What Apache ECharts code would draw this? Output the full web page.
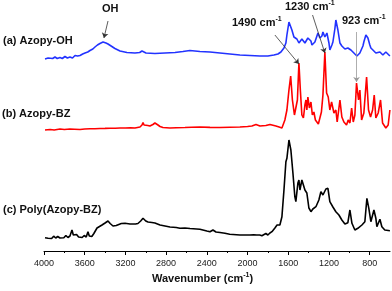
<!DOCTYPE html>
<html><head><meta charset="utf-8">
<script src="https://cdn.jsdelivr.net/npm/echarts@6/dist/echarts.min.js"></script>
<style>html,body{margin:0;padding:0;background:#fff}#c{width:392px;height:291px}</style>
</head><body><div id="c"></div>
<script>
const majorTicks = [4000,3600,3200,2800,2400,2000,1600,1200,800];
const minorTicks = [3800,3400,3000,2600,2200,1800,1400,1000];
const seriesNames = ['(a) Azopy-OH','(b) Azopy-BZ','(c) Poly(Azopy-BZ)'];

// [wavenumber, intensity (a.u., offset)]
const azopyOH = [[3990,192],[3960,193],[3941,193.5],[3915,192.5],[3892,194],[3870,192.5],[3843,193.5],[3820,192.5],[3794,194.5],[3770,193],[3745,194],[3720,193],[3695,195.5],[3670,195],[3646,195.5],[3620,197],[3597,198],[3570,199],[3548,200.5],[3520,202],[3499,204],[3475,206],[3450,207.5],[3420,209],[3391,208],[3371,207],[3352,205.5],[3303,202.5],[3253,200],[3185,198.5],[3106,198],[3060,198.5],[3037,200],[3020,198.5],[2998,198],[2910,197.5],[2811,198],[2713,198.5],[2635,199.5],[2566,200.5],[2468,199.5],[2369,199],[2271,198],[2173,197],[2075,196],[1976,195.5],[1878,195],[1800,195],[1741,196],[1701,197],[1672,199],[1642,203],[1623,208],[1613,216],[1593,229],[1584,231],[1564,221],[1544,214],[1525,213],[1515,212],[1495,208],[1485,206],[1466,212],[1456,213],[1436,208],[1426,207],[1407,213],[1397,215],[1377,210],[1367,206],[1348,208],[1338,209],[1318,215],[1308,218],[1289,213],[1279,211],[1269,215],[1259,219],[1240,214],[1220,218],[1200,208],[1191,201],[1171,206],[1161,209],[1142,222],[1132,231],[1112,221],[1092,208],[1073,205],[1063,204],[1043,202],[1033,201],[1014,203],[1004,204],[984,201],[974,199],[945,197],[925,195],[916,196],[896,198],[886,200],[866,205],[857,209],[837,216],[817,213],[798,206],[788,203],[768,201],[758,200],[739,198],[729,198],[699,199],[680,197],[670,196],[651,198],[641,199],[621,197],[601,195]];

const azopyBZ = [[3990,121],[3940,121.5],[3900,121],[3843,122],[3800,121.5],[3746,122],[3700,121.8],[3646,121.5],[3600,122],[3548,122.3],[3500,122.2],[3450,122.5],[3400,122.6],[3350,122.8],[3300,122.8],[3253,123],[3200,123],[3150,123.2],[3106,123],[3057,124],[3037,126],[3027,128.5],[3017,126],[3008,125],[2980,125.5],[2959,125],[2930,126.5],[2910,128],[2895,127],[2880,126],[2860,124.5],[2831,123.5],[2762,123],[2700,123.2],[2615,123.5],[2550,123.8],[2468,124],[2369,123.6],[2271,123.5],[2173,123.8],[2075,124],[2000,124.5],[1957,125],[1917,126.5],[1898,125.5],[1878,125],[1859,125],[1820,125.5],[1780,126.5],[1760,126],[1721,125],[1690,124],[1662,123],[1633,131],[1613,141],[1593,161],[1576,175],[1559,151],[1539,136],[1525,134],[1510,151],[1495,188],[1481,161],[1466,136],[1451,133],[1436,146],[1426,151],[1417,141],[1407,154],[1392,143],[1377,149],[1363,136],[1348,139],[1333,131],[1318,133],[1304,127],[1289,129],[1274,139],[1259,156],[1240,199],[1223,158],[1207,154],[1191,141],[1174,149],[1151,138],[1132,141],[1119,129],[1092,151],[1073,134],[1053,129],[1027,126],[1011,131],[994,128],[977,143],[961,129],[945,136],[929,168],[909,151],[896,161],[879,131],[857,138],[830,174],[811,141],[791,134],[771,141],[755,156],[739,133],[716,138],[693,151],[673,128],[641,123],[618,126],[601,141]];

const polyAzopyBZ = [[3990,13.3],[3975,14.5],[3960,12.8],[3941,14.2],[3925,12.5],[3905,14.8],[3885,13],[3865,14.5],[3843,13],[3825,14.8],[3805,13.2],[3785,15.5],[3765,13.5],[3745,15],[3725,21],[3712,16],[3695,14.5],[3680,16.5],[3660,14],[3646,15.5],[3625,13.5],[3605,15.5],[3585,14],[3568,19.3],[3555,15],[3530,14.5],[3510,17.5],[3479,23],[3460,21],[3430,26],[3400,28],[3371,30],[3350,27.5],[3322,25],[3290,25.5],[3273,26],[3240,27.5],[3204,27.7],[3155,27],[3100,27],[3077,27.5],[3050,30],[3027,32.7],[3000,30],[2978,29],[2940,28.5],[2910,28],[2860,26],[2811,25],[2762,24],[2700,23.5],[2664,22.7],[2615,23],[2566,22.5],[2468,21.7],[2400,20],[2369,19.3],[2350,20.5],[2340,21],[2325,19.5],[2310,19],[2271,18.5],[2222,17.7],[2175,16.8],[2075,16],[1976,16],[1940,16.3],[1927,16.8],[1910,16],[1898,18],[1880,16],[1859,15.3],[1840,16.5],[1820,17.5],[1800,16],[1780,18],[1760,19.3],[1741,20],[1731,23],[1710,26],[1682,26],[1662,34.3],[1642,61],[1623,89.3],[1613,92.7],[1593,111],[1574,101],[1554,78],[1535,54.3],[1525,49.3],[1505,68],[1495,71],[1485,61],[1466,71],[1456,72.7],[1436,61],[1417,58],[1397,43],[1377,39.3],[1358,42],[1328,44.3],[1299,51],[1279,59.3],[1259,56],[1230,62],[1210,62.7],[1191,49.3],[1161,44],[1132,39.3],[1102,36],[1073,31],[1043,27],[1014,28.3],[994,41],[974,27.7],[945,21],[916,22.7],[876,26],[847,29.3],[827,52.7],[808,42.7],[788,29.3],[758,41],[739,32.7],[729,24.3],[699,31.7],[680,24.3],[651,21],[601,20.3]];

// annotation arrows: [from, to] in data coordinates
const arrowOH = [[3371,230],[3411,213]];
const arrow1490 = [[1731,216],[1495,187]];
const arrow1230 = [[1361,236],[1240,198]];
const arrow923 = [[929,219],[929,169]];

const FONT = 'Liberation Sans, Arial, Helvetica, sans-serif';
const chart = echarts.init(document.getElementById('c'), null, {renderer:'canvas'});

function line(a, color){
  return [{coord:a[0], lineStyle:{color:color}}, {coord:a[1]}];
}
function supText(main, left, top, tail){
  return {
    type:'text', left:left, top:top, silent:true,
    style:{
      text:'{m|' + main + '}{s|-1}' + (tail ? '{m|' + tail + '}' : ''),
      rich:{
        m:{fontSize:11, fontWeight:'bold', fontFamily:FONT, fill:'#111', lineHeight:14},
        s:{fontSize:7, fontWeight:'bold', fontFamily:FONT, fill:'#111', lineHeight:8, verticalAlign:'top'}
      }
    }
  };
}
function plainText(t, left, top){
  return {type:'text', left:left, top:top, silent:true,
    style:{text:t, fontSize:11, fontWeight:'bold', fontFamily:FONT, fill:'#111'}};
}

const option = {
  animation:false,
  backgroundColor:'#fff',
  grid:{left:44, right:2, top:0, bottom:40},
  xAxis:[{
    type:'value', min:600, max:4000, inverse:true,
    axisLine:{show:true, lineStyle:{color:'#000', width:1}},
    axisTick:{show:true, inside:false, length:4, customValues:majorTicks, lineStyle:{color:'#000'}},
    axisLabel:{show:true, customValues:majorTicks, fontSize:9, color:'#222', fontFamily:FONT, margin:8,
      formatter:function(v){ return String(v); }},
    splitLine:{show:false}
  },{
    type:'value', min:600, max:4000, inverse:true, position:'bottom',
    axisLine:{show:false},
    axisTick:{show:true, inside:false, length:2, customValues:minorTicks, lineStyle:{color:'#000'}},
    axisLabel:{show:false},
    splitLine:{show:false}
  }],
  yAxis:{type:'value', min:0, max:251, show:false, splitLine:{show:false}},
  series:[
    {name:seriesNames[0], type:'line', data:azopyOH, showSymbol:false, lineStyle:{color:'#2233ff', width:1.6}, itemStyle:{color:'#2233ff'},
      markLine:{silent:true, symbol:['none','arrow'], symbolSize:5, label:{show:false},
        lineStyle:{color:'#333', width:0.8, type:'solid'},
        data:[line(arrowOH,'#333'), line(arrow1490,'#333'), line(arrow1230,'#333'), line(arrow923,'#999')]}},
    {name:seriesNames[1], type:'line', data:azopyBZ, showSymbol:false, lineStyle:{color:'#ff0000', width:1.6}, itemStyle:{color:'#ff0000'}},
    {name:seriesNames[2], type:'line', data:polyAzopyBZ, showSymbol:false, lineStyle:{color:'#000', width:1.6}, itemStyle:{color:'#000'}}
  ],
  graphic:[
    plainText(seriesNames[0], 3, 35),
    plainText(seriesNames[1], 2, 108),
    plainText(seriesNames[2], 3, 204),
    plainText('OH', 102, 3),
    supText('1490 cm', 232, 16),
    supText('1230 cm', 285, 0),
    supText('923 cm', 342, 14),
    supText('Wavenumber (cm', 152, 272, ')')
  ]
};
chart.setOption(option);
</script></body></html>
